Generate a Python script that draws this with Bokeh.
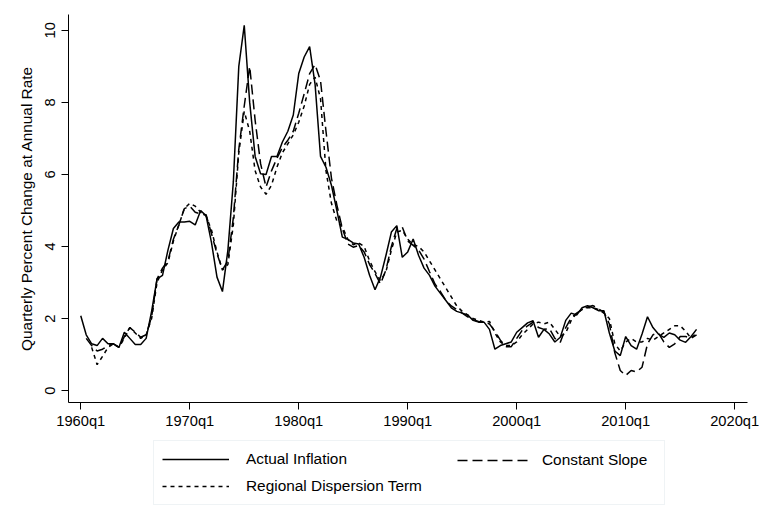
from bokeh.plotting import figure
from bokeh.layouts import column
from bokeh.models import FixedTicker, Legend, LegendItem, Range1d, ColumnDataSource
from bokeh.embed import file_html
from bokeh.resources import INLINE

NaN = float("nan")

# quarter index: 0 = 1960q1, every second quarter
quarters = list(range(0, 228, 2))

actual_inflation = [
    2.08, 1.55, 1.30, 1.25, 1.45, 1.30, 1.30, 1.20, 1.62, 1.45,
    1.28, 1.28, 1.45, 2.20, 3.10, 3.20, 3.90, 4.50, 4.68, 4.68,
    4.70, 4.60, 5.00, 4.85, 4.10, 3.15, 2.75, 3.90, 5.80, 9.00,
    10.14, 8.00, 6.50, 6.02, 6.00, 6.50, 6.50, 6.90, 7.20, 7.65,
    8.80, 9.26, 9.55, 8.50, 6.50, 6.20, 5.70, 5.00, 4.26, 4.20,
    4.10, 4.07, 3.70, 3.20, 2.80, 3.15, 3.75, 4.40, 4.58, 3.70,
    3.85, 4.21, 3.75, 3.40, 3.20, 2.90, 2.70, 2.50, 2.30, 2.20,
    2.15, 2.10, 1.95, 1.90, 1.90, 1.70, 1.15, 1.25, 1.30, 1.35,
    1.62, 1.75, 1.88, 1.94, 1.48, 1.70, 1.57, 1.35, 1.48, 1.95,
    2.15, 2.10, 2.30, 2.36, 2.30, 2.22, 2.22, 1.60, 1.10, 0.97,
    1.50, 1.25, 1.15, 1.57, 2.05, 1.75, 1.57, 1.48, 1.60, 1.55,
    1.40, 1.34, 1.50, 1.70,
]

constant_slope = [
    NaN, 1.45, 1.25, 1.10, 1.15, 1.25, 1.30, 1.20, 1.50, 1.75,
    1.62, 1.48, 1.55, 2.05, 3.10, 3.40, 3.60, 4.20, 4.60, 5.05,
    5.12, 4.95, 4.90, 4.88, 4.35, 3.80, 3.35, 3.60, 4.80, 6.70,
    7.90, 9.00, 7.50, 6.30, 5.65, 6.10, 6.45, 6.75, 6.95, 7.20,
    7.70, 8.24, 8.80, 9.05, 8.60, 7.20, 5.90, 5.15, 4.50, 4.07,
    3.98, 4.03, 3.85, 3.50, 3.25, 2.96, 3.35, 4.00, 4.50, 4.54,
    4.15, 4.03, 3.90, 3.65, 3.30, 2.96, 2.75, 2.50, 2.35, 2.25,
    2.15, 2.05, 1.97, 1.92, 1.90, 1.85, 1.65, 1.40, 1.22, 1.22,
    1.45, 1.67, 1.80, 1.90, 1.75, 1.70, 1.72, 1.45, 1.34, 1.75,
    2.02, 2.15, 2.25, 2.32, 2.36, 2.27, 2.18, 1.85, 1.05, 0.56,
    0.42, 0.56, 0.52, 0.65, 1.30, 1.55, 1.60, 1.35, 1.20, 1.30,
    1.50, 1.50, 1.45, 1.55,
]

regional_dispersion = [
    NaN, NaN, 1.20, 0.72, 0.95, 1.20, 1.30, 1.20, 1.45, 1.75,
    1.60, 1.45, 1.55, 2.00, 3.00, 3.35, 3.55, 4.15, 4.60, 5.05,
    5.20, 5.12, 4.95, 4.85, 4.45, 3.85, 3.35, 3.50, 4.60, 6.60,
    7.75, 7.20, 6.10, 5.65, 5.45, 5.70, 6.20, 6.60, 6.85, 7.10,
    7.45, 7.90, 8.50, 8.70, 8.10, 6.10, 5.20, 4.70, 4.55, 4.20,
    4.05, 4.10, 4.00, 3.60, 3.30, 3.05, 3.30, 3.90, 4.40, 4.45,
    4.20, 4.05, 4.00, 3.85, 3.60, 3.35, 3.10, 2.85, 2.60, 2.35,
    2.20, 2.10, 2.00, 1.95, 1.90, 1.92, 1.60, 1.35, 1.25, 1.25,
    1.35, 1.55, 1.70, 1.85, 1.90, 1.85, 1.90, 1.70, 1.50, 1.60,
    1.95, 2.15, 2.25, 2.30, 2.30, 2.25, 2.15, 2.00, 1.30, 1.10,
    1.35, 1.45, 1.35, 1.35, 1.45, 1.40, 1.50, 1.60, 1.70, 1.80,
    1.80, 1.65, 1.45, 1.60,
]

x_tick_values = [0, 40, 80, 120, 160, 200, 240]
x_tick_labels = ["1960q1", "1970q1", "1980q1", "1990q1", "2000q1", "2010q1", "2020q1"]
y_tick_values = [0, 2, 4, 6, 8, 10]

series_labels = ["Actual Inflation", "Constant Slope", "Regional Dispersion Term"]
series_dash = ["solid", "10 5", "4 4"]

FONT = "Liberation Sans"
LW = 1.5

source = ColumnDataSource(dict(q=quarters, actual=actual_inflation,
                               cs=constant_slope, rd=regional_dispersion))

p = figure(frame_width=679, frame_height=388, output_backend="svg", toolbar_location=None,
           x_range=Range1d(-4.5, 244.7), y_range=Range1d(-0.33, 10.44),
           min_border_left=68, min_border_right=12, min_border_top=14,
           min_border_bottom=30)
p.outline_line_color = None
p.grid.visible = False
p.background_fill_color = "white"
p.border_fill_color = "white"

p.line("q", "actual", source=source, line_color="black", line_width=LW, line_dash=series_dash[0])
p.line("q", "cs", source=source, line_color="black", line_width=LW, line_dash=series_dash[1])
p.line("q", "rd", source=source, line_color="black", line_width=LW, line_dash=series_dash[2])

for ax in (p.xaxis[0], p.yaxis[0]):
    ax.axis_line_color = "black"
    ax.axis_line_width = 1
    ax.major_tick_line_color = "black"
    ax.major_tick_out = 7
    ax.major_tick_in = 0
    ax.minor_tick_line_color = None
    ax.major_label_text_font = FONT
    ax.major_label_text_font_size = "14.7px"
    ax.major_label_text_color = "black"
    ax.axis_label_text_font = FONT
    ax.axis_label_text_font_style = "normal"
    ax.axis_label_text_color = "black"

p.xaxis.ticker = FixedTicker(ticks=x_tick_values)
p.xaxis.major_label_overrides = {v: s for v, s in zip(x_tick_values, x_tick_labels)}
p.xaxis.major_label_standoff = 3

p.yaxis.ticker = FixedTicker(ticks=y_tick_values)
p.yaxis.major_label_orientation = "vertical"
p.yaxis.major_label_standoff = 6
p.yaxis.axis_label = "Quarterly Percent Change at Annual Rate"
p.yaxis.axis_label_text_font_size = "15.4px"
p.yaxis.axis_label_standoff = 8

# legend panel below the chart (its frame is aligned with the chart frame)
p2 = figure(width=759, height=82, output_backend="svg", toolbar_location=None,
            x_range=Range1d(0, 1), y_range=Range1d(0, 1),
            x_axis_location=None, y_axis_location=None, min_border=0)
p2.outline_line_color = None
p2.grid.visible = False
p2.background_fill_color = "white"
p2.border_fill_color = "white"

# legend key renderers (no visible data)
keys = [p2.line([NaN], [NaN], line_color="black", line_width=LW, line_dash=d) for d in series_dash]


def style_legend(lg, glyph_width, standoff):
    lg.glyph_width = glyph_width
    lg.glyph_height = 20
    lg.label_height = 20
    lg.label_standoff = standoff
    lg.spacing = 7
    lg.padding = 8
    lg.margin = 0
    lg.label_text_font = FONT
    lg.label_text_font_size = "15.4px"
    lg.label_text_color = "black"


legend_a = Legend(items=[
    LegendItem(label=series_labels[0], renderers=[keys[0]]),
    LegendItem(label=series_labels[2], renderers=[keys[2]]),
], orientation="vertical", location=(85, 9))
style_legend(legend_a, 67, 17)
legend_a.label_width = 410
legend_a.border_line_color = "#dfe7ec"
legend_a.border_line_width = 1
legend_a.background_fill_color = "white"
legend_a.background_fill_alpha = 1

legend_b = Legend(items=[
    LegendItem(label=series_labels[1], renderers=[keys[1]]),
], orientation="vertical", location=(389, 44))
style_legend(legend_b, 73, 12)
legend_b.border_line_color = None
legend_b.background_fill_alpha = 0

p2.add_layout(legend_a, "center")
p2.add_layout(legend_b, "center")

layout = column(p, p2, spacing=0)

open("out.html", "w").write(file_html(layout, INLINE))
